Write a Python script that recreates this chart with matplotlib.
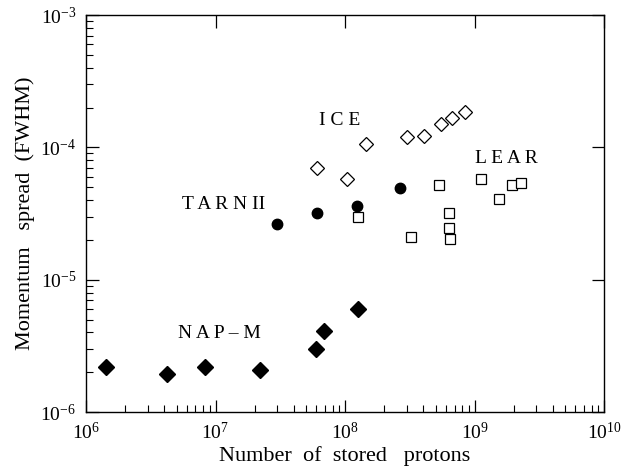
import math
import matplotlib
matplotlib.use("Agg")
import matplotlib.pyplot as plt
from matplotlib.ticker import LogLocator, FuncFormatter, NullFormatter

plt.rcParams["font.family"] = ["Liberation Serif", "DejaVu Serif"]
plt.rcParams["mathtext.fontset"] = "stix"

# NAP-M (filled diamonds)
napm_n = [1.43e6, 4.2e6, 8.3e6, 2.2e7, 6.0e7, 6.9e7, 1.26e8]
napm_dp = [2.19e-6, 1.95e-6, 2.19e-6, 2.07e-6, 3.0e-6, 4.07e-6, 5.98e-6]

# TARN II (filled circles)
tarn_n = [3.0e7, 6.1e7, 1.23e8, 2.67e8]
tarn_dp = [2.63e-5, 3.2e-5, 3.6e-5, 4.9e-5]

# ICE (open diamonds)
ice_n = [6.1e7, 1.03e8, 1.44e8, 3.0e8, 4.1e8, 5.5e8, 6.7e8, 8.45e8]
ice_dp = [7.05e-5, 5.8e-5, 1.07e-4, 1.2e-4, 1.22e-4, 1.5e-4, 1.68e-4, 1.84e-4]

# LEAR (open squares)
lear_n = [1.25e8, 3.2e8, 5.3e8, 6.3e8, 6.3e8, 6.4e8, 1.12e9, 1.55e9, 1.93e9, 2.26e9]
lear_dp = [3.0e-5, 2.1e-5, 5.2e-5, 3.2e-5, 2.47e-5, 2.05e-5, 5.8e-5, 4.07e-5, 5.2e-5, 5.4e-5]

fig = plt.figure(figsize=(6.32, 4.70), dpi=100)
ax = fig.add_axes([0.136, 0.123, 0.820, 0.845])

ax.plot(napm_n, napm_dp, "D", color="black", markersize=8, linestyle="none")
ax.plot(tarn_n, tarn_dp, "o", color="black", markersize=7.5, linestyle="none")
ax.plot(ice_n, ice_dp, "D", markerfacecolor="white", markeredgecolor="black",
        markeredgewidth=0.9, markersize=7, linestyle="none")
ax.plot(lear_n, lear_dp, "s", markerfacecolor="white", markeredgecolor="black",
        markeredgewidth=0.9, markersize=7.5, linestyle="none")

ax.set_xscale("log")
ax.set_yscale("log")
ax.set_xlim(1e6, 1e10)
ax.set_ylim(1e-6, 1e-3)

# group labels
lab = dict(fontsize=14, ha="center", va="center")
ax.text(9.1e7, 1.6e-4, "I C E", **lab)
ax.text(1.76e9, 8.2e-5, "L E A R", **lab)
ax.text(1.15e7, 3.72e-5, "T A R N II", **lab)
ax.text(1.07e7, 3.92e-6, "N A P – M", **lab)

ax.set_xlabel("Number  of  stored   protons", fontsize=16, labelpad=2)
ax.set_ylabel("Momentum   spread  (FWHM)", fontsize=16, labelpad=4)

fmt = FuncFormatter(lambda v, p: r"$\mathregular{10^{%d}}$" % round(math.log10(v)))
ax.xaxis.set_major_locator(LogLocator(base=10, numticks=10))
ax.yaxis.set_major_locator(LogLocator(base=10, numticks=10))
ax.xaxis.set_major_formatter(fmt)
ax.yaxis.set_major_formatter(fmt)
ax.xaxis.set_minor_locator(LogLocator(base=10, subs=range(2, 10), numticks=20))
ax.yaxis.set_minor_locator(LogLocator(base=10, subs=range(2, 10), numticks=20))
ax.xaxis.set_minor_formatter(NullFormatter())
ax.yaxis.set_minor_formatter(NullFormatter())

ax.tick_params(which="major", direction="in", length=9, width=0.9,
               top=True, right=True, labelsize=14, pad=7)
ax.tick_params(which="minor", direction="in", length=5, width=0.8,
               top=False, right=False)
for s in ax.spines.values():
    s.set_linewidth(1.0)

fig.savefig("out.png", dpi=100)
